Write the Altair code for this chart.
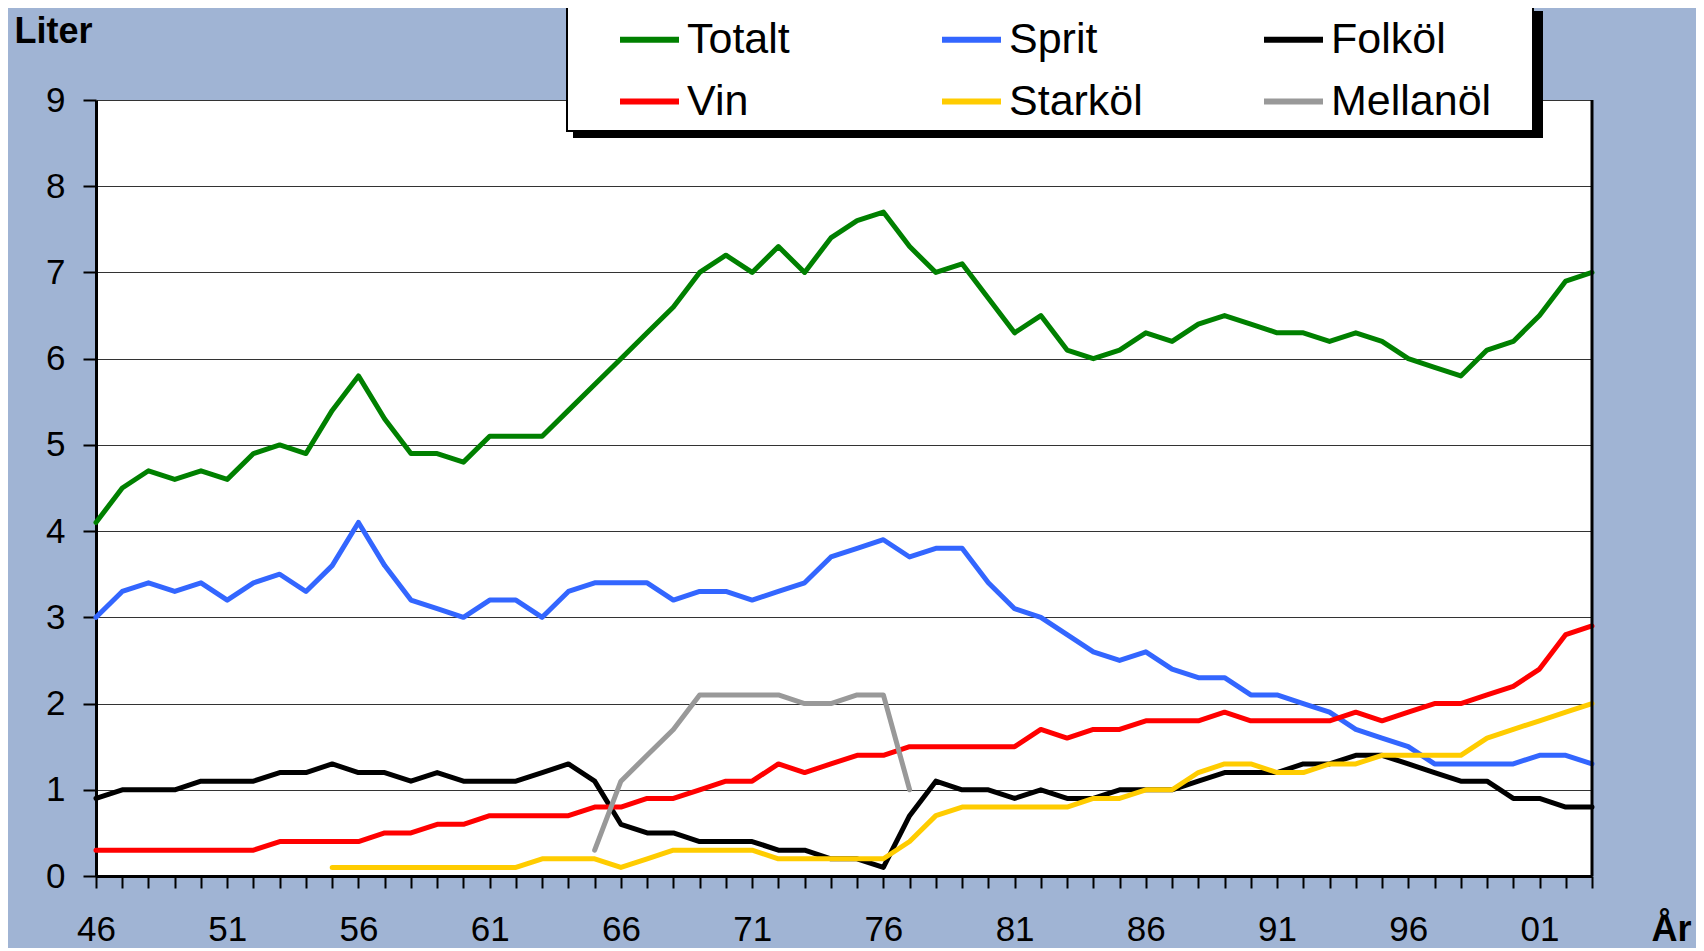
import altair as alt
import pandas as pd

# ---- data (liter per person) ----
years = list(range(1946, 2004))

totalt = [4.1, 4.5, 4.7, 4.6, 4.7, 4.6, 4.9, 5.0, 4.9, 5.4,
          5.8, 5.3, 4.9, 4.9, 4.8, 5.1, 5.1, 5.1, 5.4, 5.7,
          6.0, 6.3, 6.6, 7.0, 7.2, 7.0, 7.3, 7.0, 7.4, 7.6,
          7.7, 7.3, 7.0, 7.1, 6.7, 6.3, 6.5, 6.1, 6.0, 6.1,
          6.3, 6.2, 6.4, 6.5, 6.4, 6.3, 6.3, 6.2, 6.3, 6.2,
          6.0, 5.9, 5.8, 6.1, 6.2, 6.5, 6.9, 7.0]

sprit = [3.0, 3.3, 3.4, 3.3, 3.4, 3.2, 3.4, 3.5, 3.3, 3.6,
         4.1, 3.6, 3.2, 3.1, 3.0, 3.2, 3.2, 3.0, 3.3, 3.4,
         3.4, 3.4, 3.2, 3.3, 3.3, 3.2, 3.3, 3.4, 3.7, 3.8,
         3.9, 3.7, 3.8, 3.8, 3.4, 3.1, 3.0, 2.8, 2.6, 2.5,
         2.6, 2.4, 2.3, 2.3, 2.1, 2.1, 2.0, 1.9, 1.7, 1.6,
         1.5, 1.3, 1.3, 1.3, 1.3, 1.4, 1.4, 1.3]

folkol = [0.9, 1.0, 1.0, 1.0, 1.1, 1.1, 1.1, 1.2, 1.2, 1.3,
          1.2, 1.2, 1.1, 1.2, 1.1, 1.1, 1.1, 1.2, 1.3, 1.1,
          0.6, 0.5, 0.5, 0.4, 0.4, 0.4, 0.3, 0.3, 0.2, 0.2,
          0.1, 0.7, 1.1, 1.0, 1.0, 0.9, 1.0, 0.9, 0.9, 1.0,
          1.0, 1.0, 1.1, 1.2, 1.2, 1.2, 1.3, 1.3, 1.4, 1.4,
          1.3, 1.2, 1.1, 1.1, 0.9, 0.9, 0.8, 0.8]

vin = [0.3, 0.3, 0.3, 0.3, 0.3, 0.3, 0.3, 0.4, 0.4, 0.4,
       0.4, 0.5, 0.5, 0.6, 0.6, 0.7, 0.7, 0.7, 0.7, 0.8,
       0.8, 0.9, 0.9, 1.0, 1.1, 1.1, 1.3, 1.2, 1.3, 1.4,
       1.4, 1.5, 1.5, 1.5, 1.5, 1.5, 1.7, 1.6, 1.7, 1.7,
       1.8, 1.8, 1.8, 1.9, 1.8, 1.8, 1.8, 1.8, 1.9, 1.8,
       1.9, 2.0, 2.0, 2.1, 2.2, 2.4, 2.8, 2.9]

starkol_years = list(range(1955, 2004))
starkol = [0.1, 0.1, 0.1, 0.1, 0.1, 0.1, 0.1, 0.1, 0.2, 0.2,
           0.2, 0.1, 0.2, 0.3, 0.3, 0.3, 0.3, 0.2, 0.2, 0.2,
           0.2, 0.2, 0.4, 0.7, 0.8, 0.8, 0.8, 0.8, 0.8, 0.9,
           0.9, 1.0, 1.0, 1.2, 1.3, 1.3, 1.2, 1.2, 1.3, 1.3,
           1.4, 1.4, 1.4, 1.4, 1.6, 1.7, 1.8, 1.9, 2.0]

mellanol_years = list(range(1965, 1978))
mellanol = [0.3, 1.1, 1.4, 1.7, 2.1, 2.1, 2.1, 2.1, 2.0, 2.0, 2.1, 2.1, 1.0]

# legend fills column by column: (Totalt, Vin), (Sprit, Starköl), (Folköl, Mellanöl)
series_names = ["Totalt", "Vin", "Sprit", "Starköl", "Folköl", "Mellanöl"]
series_colors = ["#008000", "#FF0000", "#3366FF", "#FFCC00", "#000000", "#999999"]

y_ticks = list(range(0, 10))

rows = []
for name, yrs, vals in [
    ("Totalt", years, totalt),
    ("Sprit", years, sprit),
    ("Folköl", years, folkol),
    ("Vin", years, vin),
    ("Starköl", starkol_years, starkol),
    ("Mellanöl", mellanol_years, mellanol),
]:
    for yr, v in zip(yrs, vals):
        rows.append({"Serie": name, "year": yr, "liter": v})
df = pd.DataFrame(rows)

FONT = "Liberation Sans"

x_enc = alt.X(
    "year:Q",
    scale=alt.Scale(domain=[1946, 2003], nice=False, zero=False),
    axis=alt.Axis(
        values=years,
        labelExpr="(datum.value - 1946) % 5 == 0 ? substring(toString(datum.value), 2) : ''",
        title="År", titleX=1555, titleY=64, titleAlign="left",
        titleBaseline="alphabetic", titleAngle=0,
        tickSize=12, labelPadding=24, grid=False, labelFlush=False,
        labelOverlap=False, labelBound=False, domainWidth=3,
    ),
)
y_enc = alt.Y(
    "liter:Q",
    scale=alt.Scale(domain=[0, 9], nice=False, zero=True),
    axis=alt.Axis(
        values=y_ticks, title="Liter", titleX=-82, titleY=-58, titleAngle=0,
        titleAlign="left", titleBaseline="alphabetic",
        tickSize=13, labelPadding=18, grid=True, gridColor="#333333",
        gridWidth=1, domainWidth=3,
    ),
)
color_enc = alt.Color(
    "Serie:N",
    scale=alt.Scale(domain=series_names, range=series_colors),
    legend=alt.Legend(
        title=None, orient="none", legendX=521, legendY=-93, columns=3,
        gridAlign="all", symbolType="stroke", symbolSize=3481,
        symbolStrokeWidth=6, labelFontSize=43, labelOffset=5,
        rowPadding=7, columnPadding=82, padding=0, labelLimit=400,
    ),
)

lines = alt.Chart(df).mark_line(strokeWidth=5, strokeJoin="round", strokeCap="round").encode(
    x=x_enc, y=y_enc, color=color_enc, order="year:Q"
)

one = alt.Data(values=[{}])

right_border = alt.Chart(one).mark_rule(color="black", strokeWidth=3).encode(
    x=alt.value("width"), y=alt.value(0), y2=alt.value("height")
)
legend_shadow = alt.Chart(one).mark_rect(color="black").encode(
    x=alt.value(477), x2=alt.value(1447), y=alt.value(-89), y2=alt.value(38)
)
legend_box = alt.Chart(one).mark_rect(fill="white", stroke="black", strokeWidth=2).encode(
    x=alt.value(471), x2=alt.value(1437), y=alt.value(-95), y2=alt.value(31)
)

chart = alt.layer(lines, right_border, legend_shadow, legend_box).properties(
    width=1496, height=776,
    autosize=alt.AutoSizeParams(type="none"),
    padding={"left": 88, "top": 92, "right": 104, "bottom": 72},
    background="#A0B4D4",
).configure_view(
    fill="white", stroke="transparent", strokeWidth=0
).configure_axis(
    labelFont=FONT, titleFont=FONT, labelFontSize=35, titleFontSize=36,
    titleFontWeight="bold", labelColor="black", titleColor="black",
    tickColor="black", tickWidth=2, domainColor="black",
).configure_legend(
    labelFont=FONT, labelColor="black"
)

chart.save("out.html", embed_options={"renderer": "svg", "actions": False})
